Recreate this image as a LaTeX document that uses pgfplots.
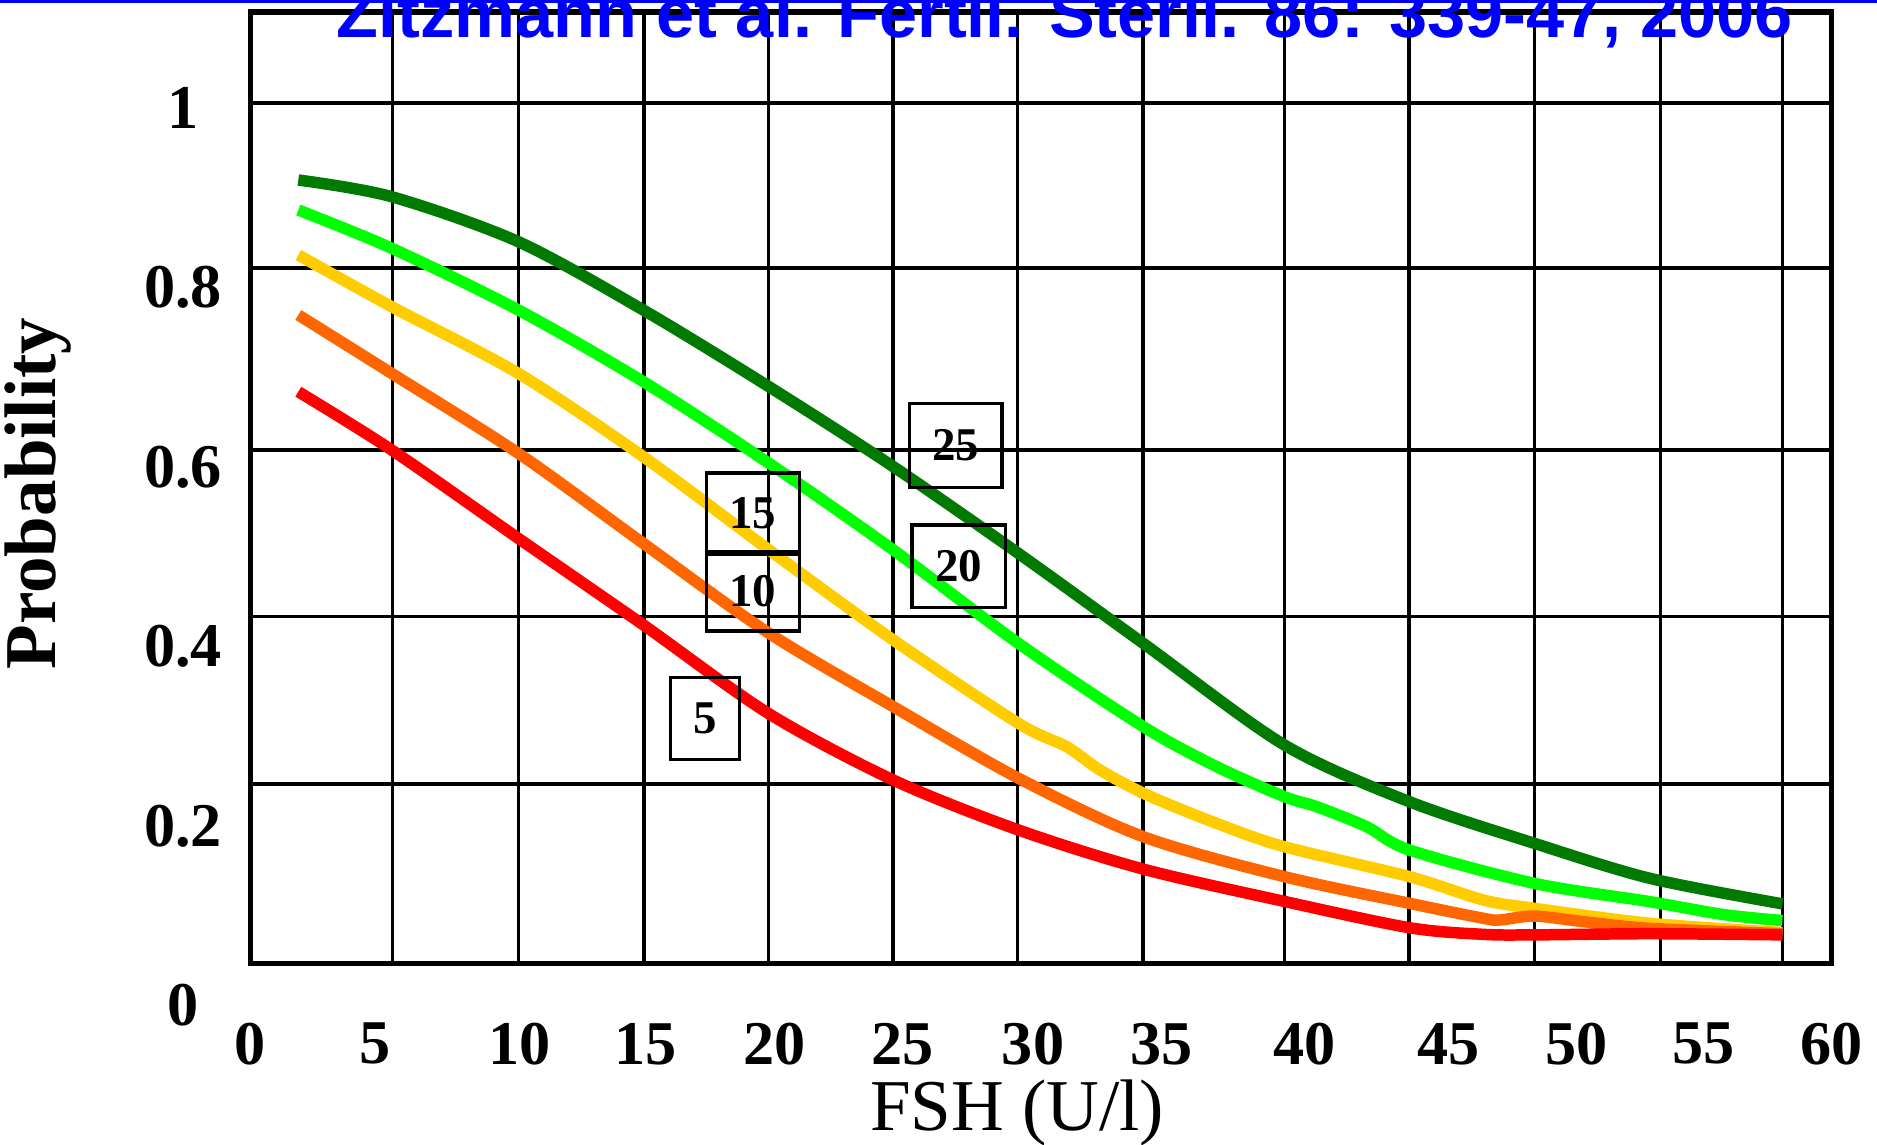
\documentclass[border=0pt]{standalone}
\usepackage{fontspec}
\setmainfont{Liberation Serif}
\newfontfamily\titlefont{Liberation Sans}
\usepackage{pgfplots}
\pgfplotsset{compat=1.18}
\definecolor{cdkgreen}{RGB}{0,122,0}
\definecolor{cltgreen}{RGB}{0,255,0}
\definecolor{cyellow}{RGB}{255,204,0}
\definecolor{corange}{RGB}{255,102,0}
\definecolor{cred}{RGB}{255,0,0}
\begin{document}
\begin{tikzpicture}
\useasboundingbox (0,0) rectangle (392pt,239pt);
\begin{axis}[
  at={(52.25pt,37.75pt)}, anchor=south west, scale only axis,
  width=330.3pt, height=198.75pt,
  xmin=0, xmax=60, ymin=0.04667, ymax=1.10667,
  axis line style={line width=1.1pt, black},
  major tick length=0pt,
  xtick={0,4.723,10.218,14.986,19.891,24.750,29.700,34.560,40.010,45.460,50.320,55.130,60},
  xticklabels={0,5,10,15,20,25,30,35,40,45,50,55,60},
  ytick={0.1,0.3,0.5,0.7,0.9,1.1},
  yticklabels={0,0.2,0.4,0.6,0.8,1},
  extra x ticks={5.404,10.173,14.941,19.664,24.387,29.110,33.878,39.237,43.960,48.728,53.497,58.129},
  extra x tick labels={},
  extra x tick style={grid=major},
  extra y ticks={0.2467,0.4333,0.6187,0.8213,1.0053},
  extra y tick labels={},
  extra y tick style={grid=major},
  major grid style={line width=0.75pt, black},
  ticklabel style={font=\bfseries\fontsize{13}{13}\selectfont},
  xticklabel style={anchor=center, yshift=-16.75pt},
  yticklabel style={anchor=center, xshift=-14pt, yshift=-18.75pt},
  ylabel={Probability},
  ylabel style={font=\bfseries\fontsize{15.25}{15.25}\selectfont, at={(axis description cs:-0.134,0.494)}, anchor=center},
  xlabel={FSH (U/l)},
  xlabel style={font=\fontsize{15.25}{15.25}\selectfont, at={(axis description cs:0.485,-0.157)}, anchor=center},
  title={Zitzmann et al. Fertil. Steril. 86: 339-47, 2006},
  title style={font=\titlefont\bfseries\fontsize{14.3}{14.3}\selectfont, text=blue, at={(axis description cs:0.515,0.9736)}, anchor=base, yshift=-6pt},
  every axis plot/.append style={line width=2.4pt, smooth},
]
% 25
\addplot[cdkgreen] coordinates {
(1.826,0.9195) (5.368,0.9009) (10.173,0.8508) (14.914,0.7747) (19.682,0.6893) (24.396,0.6003)
(29.142,0.5037) (33.878,0.4035) (39.232,0.2903) (43.974,0.2271) (48.715,0.1807) (53.102,0.1417)
(58.129,0.1133)};
% 20
\addplot[cltgreen] coordinates {
(1.826,0.8861) (5.368,0.8435) (10.173,0.7747) (14.914,0.6949) (19.682,0.604) (24.396,0.5075)
(29.142,0.4035) (33.878,0.3107) (36.667,0.2661) (39.232,0.2327) (40.459,0.2215) (42.357,0.1992)
(43.974,0.1733) (48.715,0.1361) (53.102,0.1157) (55.904,0.1013) (58.129,0.0947)};
% 15
\addplot[cyellow] coordinates {
(1.826,0.836) (5.368,0.7784) (10.173,0.7041) (14.914,0.6113) (19.682,0.5075) (24.396,0.4072)
(29.142,0.3144) (30.972,0.2884) (32.239,0.2624) (34.015,0.2347) (36.667,0.2029) (39.232,0.1769)
(43.974,0.1436) (46.780,0.1176) (48.715,0.1083) (53.102,0.0916) (58.129,0.0813)};
% 10
\addplot[corange] coordinates {
(1.826,0.7692) (5.368,0.7041) (10.173,0.6151) (14.914,0.5148) (19.682,0.4147) (24.396,0.3329)
(29.142,0.2533) (33.878,0.1881) (39.232,0.1436) (43.974,0.1139) (46.780,0.0972) (47.411,0.0953)
(48.715,0.0997) (50.572,0.0935) (53.102,0.086) (58.129,0.08)};
% 5
\addplot[cred] coordinates {
(1.826,0.6837) (5.368,0.6188) (10.173,0.5204) (14.914,0.424) (19.655,0.3255) (24.396,0.2512)
(29.142,0.1956) (33.878,0.152) (39.232,0.116) (43.974,0.0867) (46.780,0.0793) (48.715,0.0787)
(53.102,0.08) (58.129,0.0787)};
\tikzset{lbl/.style={draw=black, line width=0.7pt, inner sep=0pt, font=\bfseries\fontsize{9.8}{9.8}\selectfont}}
\node[lbl, minimum width=19.25pt, minimum height=17.5pt] at (axis cs:26.77,0.624) {25};
\node[lbl, minimum width=19.5pt, minimum height=17.25pt] at (axis cs:26.88,0.4893) {20};
\node[lbl, minimum width=19.4pt, minimum height=17pt] at (axis cs:19.07,0.548) {15};
\node[lbl, minimum width=19.4pt, minimum height=16.5pt] at (axis cs:19.07,0.4613) {10};
\node[lbl, minimum width=14.4pt, minimum height=17.1pt] at (axis cs:17.26,0.32) {5};
\end{axis}
\fill[blue] (0,238.4pt) rectangle (392pt,239pt);
\end{tikzpicture}
\end{document}
